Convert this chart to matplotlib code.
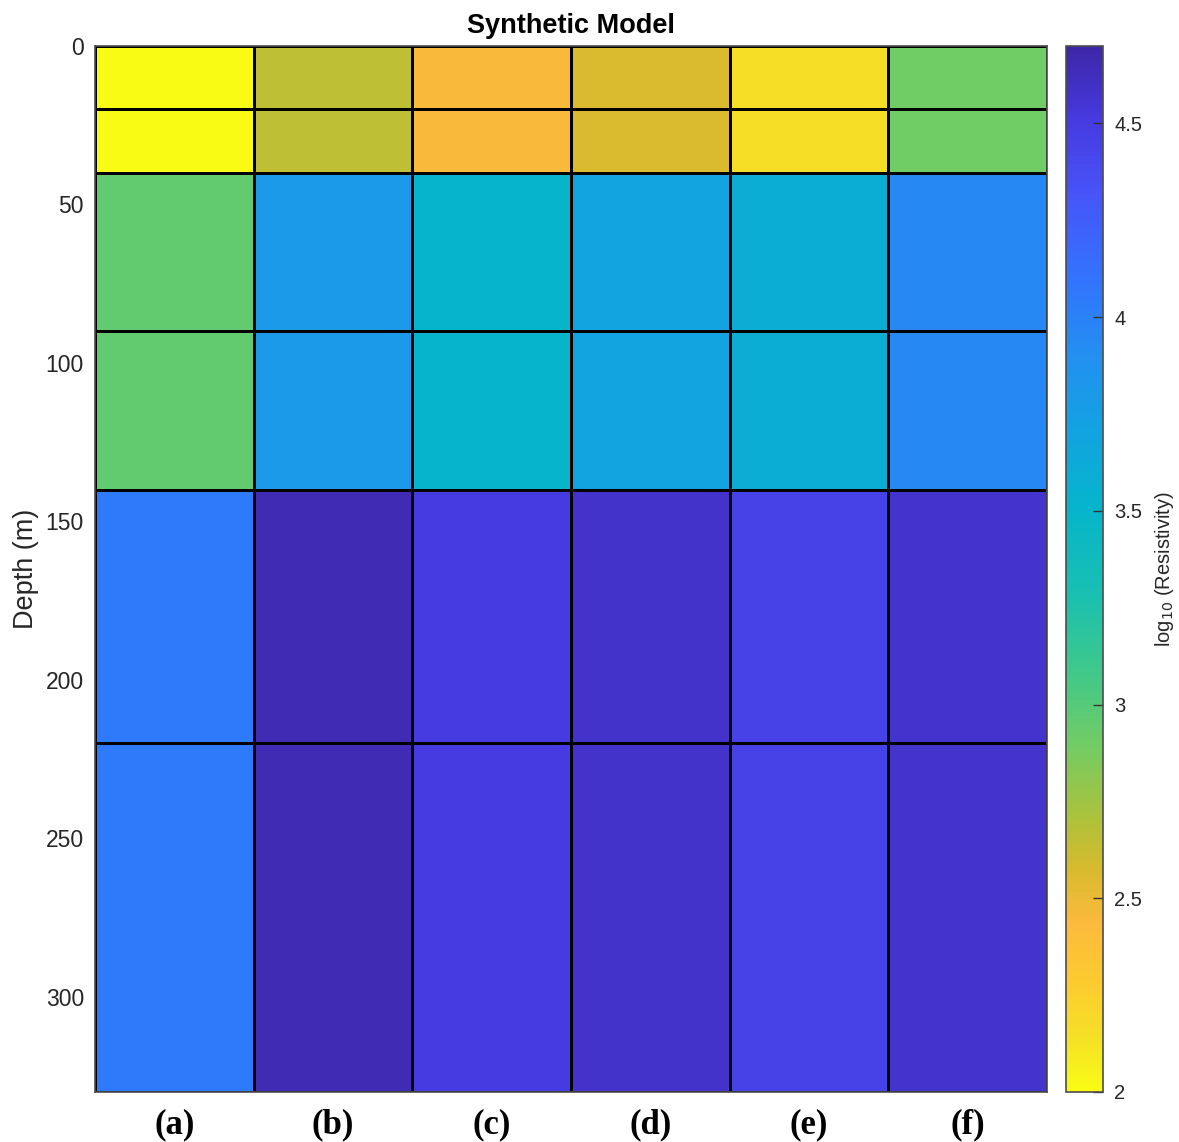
import matplotlib.pyplot as plt
import numpy as np
from matplotlib.colors import LinearSegmentedColormap

# layer boundaries (m) and model columns
depth_edges = [0, 20, 40, 90, 140, 220, 330]
models = ['(a)', '(b)', '(c)', '(d)', '(e)', '(f)']

# log10 resistivity per layer (rows, top to bottom) for each model
layer1 = [2.00, 2.65, 2.45, 2.56, 2.15, 2.90]
layer2 = [2.00, 2.65, 2.45, 2.56, 2.15, 2.90]
layer3 = [2.95, 3.80, 3.50, 3.70, 3.60, 3.95]
layer4 = [2.95, 3.80, 3.50, 3.70, 3.60, 3.95]
layer5 = [4.05, 4.65, 4.50, 4.58, 4.45, 4.57]
layer6 = [4.05, 4.65, 4.50, 4.58, 4.45, 4.57]

cbar_ticks = [2, 2.5, 3, 3.5, 4, 4.5]
vmin, vmax = 2, 4.7

# parula-like colormap
parula_pts = [
    (0.00, (0.242, 0.150, 0.660)),
    (0.07, (0.275, 0.230, 0.880)),
    (0.14, (0.280, 0.330, 0.975)),
    (0.22, (0.200, 0.450, 0.995)),
    (0.30, (0.130, 0.570, 0.940)),
    (0.37, (0.070, 0.640, 0.880)),
    (0.44, (0.020, 0.710, 0.800)),
    (0.52, (0.090, 0.750, 0.700)),
    (0.60, (0.250, 0.785, 0.540)),
    (0.67, (0.450, 0.800, 0.390)),
    (0.74, (0.680, 0.760, 0.230)),
    (0.79, (0.850, 0.730, 0.180)),
    (0.84, (0.990, 0.730, 0.240)),
    (0.90, (0.990, 0.800, 0.180)),
    (0.95, (0.960, 0.880, 0.150)),
    (1.00, (0.977, 0.984, 0.080)),
]
parula = LinearSegmentedColormap.from_list('parula', parula_pts, N=256)
cmap = parula.reversed()

values = np.array([layer1, layer2, layer3, layer4, layer5, layer6])
x_edges = np.arange(len(models) + 1)

plt.rcParams['font.family'] = ['Liberation Sans', 'DejaVu Sans']
grey = '#262626'

fig = plt.figure(figsize=(11.79, 11.42), dpi=100)
ax = fig.add_axes([0.0806, 0.0438, 0.8075, 0.916])
mesh = ax.pcolormesh(x_edges, depth_edges, values, cmap=cmap, vmin=vmin, vmax=vmax,
                     edgecolors='black', linewidth=0.75)
ax.set_xlim(0, len(models))
ax.set_ylim(depth_edges[-1], 0)

ax.set_xticks(np.arange(len(models)) + 0.5)
ax.set_xticklabels(models, family=['Liberation Serif'], fontweight='bold', fontsize=25, color='black')
ax.set_yticks([0, 50, 100, 150, 200, 250, 300])
ax.tick_params(axis='x', length=0, pad=12)
ax.tick_params(axis='y', length=0, pad=8, labelsize=16.5, labelcolor=grey)
ax.set_ylabel('Depth (m)', fontsize=19.5, color=grey, labelpad=5)
ax.set_title('Synthetic Model', fontsize=19.5, fontweight='bold', pad=9)
for s in ax.spines.values():
    s.set_color('#4d4d4d')
    s.set_linewidth(1.2)

cax = fig.add_axes([0.9042, 0.0438, 0.0314, 0.916])
cb = fig.colorbar(mesh, cax=cax, ticks=cbar_ticks)
cb.ax.set_yticklabels(['2', '2.5', '3', '3.5', '4', '4.5'])
cb.ax.tick_params(direction='in', length=7, width=1, colors='#333333', labelsize=14.5, labelcolor=grey, pad=8)
cb.outline.set_edgecolor('#4d4d4d')
cb.outline.set_linewidth(1.2)
cb.set_label('log$_{10}$ (Resistivity)', fontsize=14.5, color=grey, labelpad=8)

fig.savefig('out.png', dpi=100)
